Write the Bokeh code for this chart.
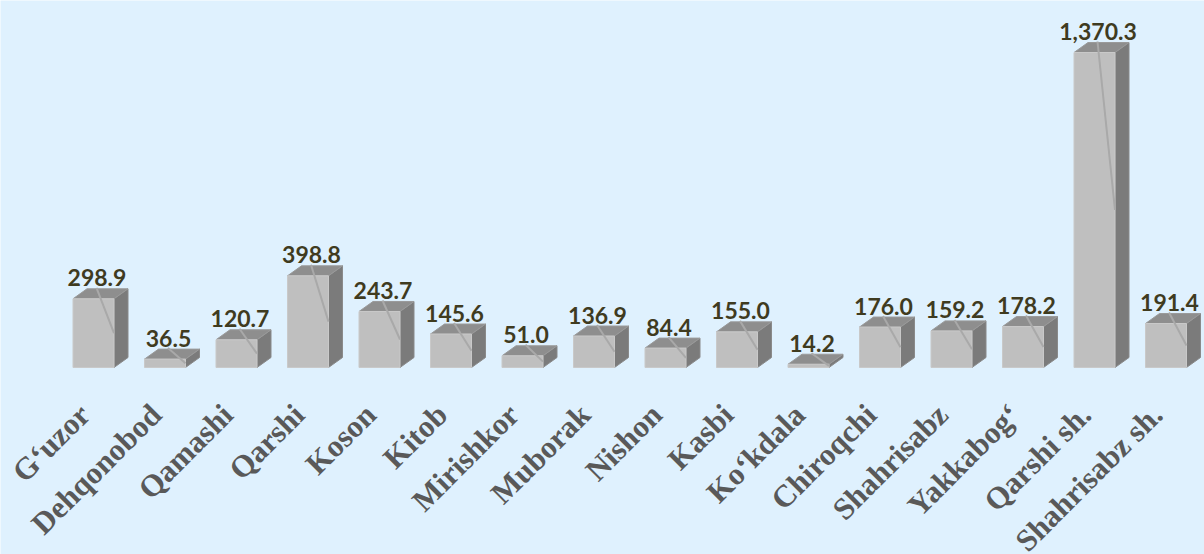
from bokeh.plotting import figure
from bokeh.models import Range1d, ColumnDataSource
from bokeh.core.properties import value
from bokeh.embed import file_html
from bokeh.resources import INLINE

categories = ["G‘uzor", "Dehqonobod", "Qamashi", "Qarshi", "Koson", "Kitob",
              "Mirishkor", "Muborak", "Nishon", "Kasbi", "Ko‘kdala", "Chiroqchi",
              "Shahrisabz", "Yakkabog‘", "Qarshi sh.", "Shahrisabz sh."]
values = [298.9, 36.5, 120.7, 398.8, 243.7, 145.6, 51.0, 136.9, 84.4, 155.0,
          14.2, 176.0, 159.2, 178.2, 1370.3, 191.4]

BG = "#DFF1FE"
W, H = 1204, 554
STEP = 71.5            # px per category
X0 = 93                # px of first bar centre
BASE = 367             # px of baseline (from top)
PPV = 315 / 1370.3     # px per value unit

x_start = -X0 / STEP
x_end = (W - X0) / STEP
y_top = BASE / PPV
y_bot = -(H - BASE) / PPV

p = figure(width=W, height=H, output_backend="svg", toolbar_location=None,
           x_range=Range1d(x_start, x_end), y_range=Range1d(y_bot, y_top),
           min_border=0)
p.axis.visible = False
p.grid.visible = False
p.outline_line_color = None
p.background_fill_color = BG
p.border_fill_color = BG

bw = 41 / STEP
dx = 14 / STEP
dy = 10 / PPV

xs = list(range(len(values)))
front_xs, front_ys, top_xs, top_ys, side_xs, side_ys = [], [], [], [], [], []
for i, v in zip(xs, values):
    l, r = i - bw / 2, i + bw / 2
    front_xs.append([l, r, r, l]); front_ys.append([0, 0, v, v])
    top_xs.append([l, r, r + dx, l + dx]); top_ys.append([v, v, v + dy, v + dy])
    side_xs.append([r, r + dx, r + dx, r]); side_ys.append([0, dy, v + dy, v])

p.patches(side_xs, side_ys, fill_color="#7B7B7B", line_color="#8A8A8A", line_width=1)
p.patches(top_xs, top_ys, fill_color="#8E8E8E", line_color="#9A9A9A", line_width=1)
p.patches(front_xs, front_ys, fill_color="#BFBFBF", line_color="#C9C9C9", line_width=1)

# leader lines
lx0 = [i + 3 / STEP for i in xs]
ly0 = [v + 11 / PPV for v in values]
lx1 = [i + bw / 2 for i in xs]
ly1 = [v / 2 for v in values]
p.segment(lx0, ly0, lx1, ly1, line_color="#A9A9A9", line_width=2)

# value labels
src = ColumnDataSource(dict(x=[i + 3.5 / STEP for i in xs],
                            y=[v + 21 / PPV for v in values],
                            t=["{:,.1f}".format(v) for v in values]))
p.text(x="x", y="y", text="t", source=src, text_align="center",
       text_baseline="alphabetic", text_font=value("Lato"),
       text_font_style="bold", text_font_size="23px", text_color="#3F3B1F")

# category labels
cy = (BASE - 409) / PPV
p.text(x=[i - 9 / STEP for i in xs], y=[cy] * len(xs), text=categories,
       angle=0.785398, text_align="right", text_baseline="alphabetic",
       text_font=value("Liberation Serif"), text_font_style="bold",
       text_font_size="31px", text_color="#595959")

html = file_html(p, INLINE)
html = html.replace("<body>", '<body style="background:%s;">' % BG, 1)
open("out.html", "w").write(html)
